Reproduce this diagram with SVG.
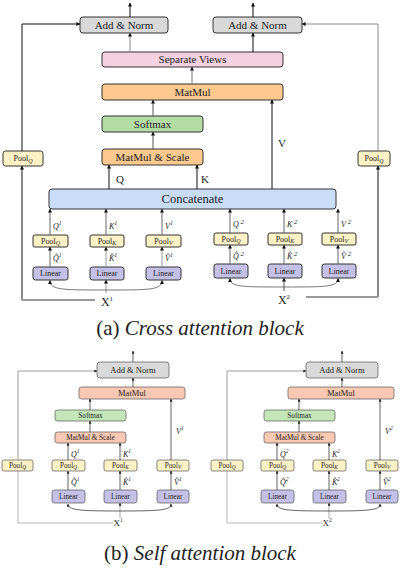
<svg xmlns="http://www.w3.org/2000/svg" width="402" height="568" viewBox="0 0 402 568" font-family="'Liberation Serif', 'Times New Roman', serif">
<defs>
<marker id="ah" viewBox="0 0 10 10" refX="9" refY="5" markerWidth="4" markerHeight="4" orient="auto" markerUnits="userSpaceOnUse"><path d="M0,0 L10,5 L0,10 z" fill="#111"/></marker>
<marker id="ahs" viewBox="0 0 10 10" refX="9" refY="5" markerWidth="3" markerHeight="3" orient="auto" markerUnits="userSpaceOnUse"><path d="M0,0 L10,5 L0,10 z" fill="#222"/></marker>
<style>
text{font-family:'Liberation Serif','Times New Roman',serif;fill:#222;text-anchor:middle}
.a rect{stroke:#333;stroke-width:1}
.b rect{stroke:#555;stroke-width:0.7}
.gray{fill:#d9d9d9}.pink{fill:#f3d1e1}.orange{fill:#fdc98f}.green{fill:#b6dca5}.blue{fill:#c9dcf8}.yellow{fill:#fff1c6}.lav{fill:#c4c0e6}.salmon{fill:#fbc9b3}.green2{fill:#c5e6b9}
.t10{font-size:11px}.t11{font-size:12.5px}.t7{font-size:8px}.t8{font-size:8.5px}.t6{font-size:7.2px}
.m{font-style:italic;text-anchor:start}
.c line,.c path{stroke:#111;stroke-width:1;fill:none;marker-end:url(#ah)}
.cb line,.cb path{stroke:#222;stroke-width:0.7;fill:none;marker-end:url(#ahs)}
.plain{marker-end:none!important}
.g{stroke:#999!important;stroke-width:2!important}
</style>
</defs>

<!-- ===== (a) Cross attention block ===== -->
<g class="a">
<g id="a-addnorm-l"><rect class="gray" x="80" y="17" width="88" height="16" rx="3"/><text class="t10" x="124" y="28.7">Add &amp; Norm</text></g>
<g id="a-addnorm-r"><rect class="gray" x="213" y="17" width="89" height="16" rx="3"/><text class="t10" x="257.5" y="28.7">Add &amp; Norm</text></g>
<g id="a-sepviews"><rect class="pink" x="102" y="52" width="181" height="15" rx="3"/><text class="t10" x="192.5" y="63.2">Separate Views</text></g>
<g id="a-matmul"><rect class="orange" x="102" y="84" width="181" height="16" rx="3"/><text class="t10" x="192.5" y="95.7">MatMul</text></g>
<g id="a-softmax"><rect class="green" x="102" y="116" width="101" height="16" rx="3"/><text class="t10" x="152.5" y="127.7">Softmax</text></g>
<g id="a-matmulscale"><rect class="orange" x="102" y="149" width="101" height="16" rx="3"/><text class="t10" x="152.5" y="160.7">MatMul &amp; Scale</text></g>
<g id="a-concat"><rect class="blue" x="49" y="189" width="287" height="20" rx="3"/><text class="t11" x="192.5" y="203.2">Concatenate</text></g>
<g id="a-poolq-l"><rect class="yellow" x="3" y="151" width="40" height="15" rx="2.5"/><text class="t7" x="23" y="161">Pool<tspan font-style="italic" font-size="6" dy="1.5">Q</tspan></text></g>
<g id="a-poolq-r"><rect class="yellow" x="358" y="151" width="32" height="15" rx="2.5"/><text class="t7" x="374" y="161">Pool<tspan font-style="italic" font-size="6" dy="1.5">Q</tspan></text></g>

<g id="a-pool-q1"><rect class="yellow" x="33" y="235" width="35" height="12" rx="2"/><text class="t7" x="50.5" y="243.5">Pool<tspan font-style="italic" font-size="6" dy="1.5">Q</tspan></text></g>
<g id="a-pool-k1"><rect class="yellow" x="90" y="235" width="34" height="12" rx="2"/><text class="t7" x="107" y="243.5">Pool<tspan font-style="italic" font-size="6" dy="1.5">K</tspan></text></g>
<g id="a-pool-v1"><rect class="yellow" x="146" y="235" width="35" height="12" rx="2"/><text class="t7" x="163.5" y="243.5">Pool<tspan font-style="italic" font-size="6" dy="1.5">V</tspan></text></g>
<g id="a-lin-q1"><rect class="lav" x="33" y="267" width="35" height="13" rx="2.5"/><text class="t7" x="50.5" y="276.2">Linear</text></g>
<g id="a-lin-k1"><rect class="lav" x="90" y="267" width="34" height="13" rx="2.5"/><text class="t7" x="107" y="276.2">Linear</text></g>
<g id="a-lin-v1"><rect class="lav" x="146" y="267" width="35" height="13" rx="2.5"/><text class="t7" x="163.5" y="276.2">Linear</text></g>

<g id="a-pool-q2"><rect class="yellow" x="214" y="233" width="34" height="12" rx="2"/><text class="t7" x="231" y="241.5">Pool<tspan font-style="italic" font-size="6" dy="1.5">Q</tspan></text></g>
<g id="a-pool-k2"><rect class="yellow" x="268" y="233" width="34" height="12" rx="2"/><text class="t7" x="285" y="241.5">Pool<tspan font-style="italic" font-size="6" dy="1.5">K</tspan></text></g>
<g id="a-pool-v2"><rect class="yellow" x="322" y="233" width="34" height="12" rx="2"/><text class="t7" x="339" y="241.5">Pool<tspan font-style="italic" font-size="6" dy="1.5">V</tspan></text></g>
<g id="a-lin-q2"><rect class="lav" x="214" y="264" width="34" height="14" rx="2.5"/><text class="t7" x="231" y="273.7">Linear</text></g>
<g id="a-lin-k2"><rect class="lav" x="268" y="264" width="34" height="14" rx="2.5"/><text class="t7" x="285" y="273.7">Linear</text></g>
<g id="a-lin-v2"><rect class="lav" x="322" y="264" width="34" height="14" rx="2.5"/><text class="t7" x="339" y="273.7">Linear</text></g>
</g>

<g id="a-connectors" class="c">
<line x1="130" y1="17" x2="130" y2="3"/>
<line x1="253" y1="17" x2="253" y2="3"/>
<line x1="130" y1="52" x2="130" y2="33" style="stroke:#888"/>
<line x1="253" y1="52" x2="253" y2="33"/>
<line x1="192" y1="84" x2="192" y2="67" style="stroke:#777"/>
<line x1="153" y1="116" x2="153" y2="100" style="stroke:#555"/>
<line x1="153" y1="149" x2="153" y2="132" style="stroke:#555"/>
<line x1="109" y1="189" x2="109" y2="165"/>
<line x1="197" y1="189" x2="197" y2="165"/>
<line x1="272" y1="189" x2="272" y2="100"/>
<line x1="50" y1="235" x2="50" y2="209" style="stroke:#666"/>
<line x1="106" y1="235" x2="106" y2="209" style="stroke:#666"/>
<line x1="162" y1="235" x2="162" y2="209" style="stroke:#666"/>
<line x1="230" y1="233" x2="230" y2="209" style="stroke:#666"/>
<line x1="284" y1="233" x2="284" y2="209" style="stroke:#666"/>
<line x1="338" y1="233" x2="338" y2="209" style="stroke:#666"/>
<line x1="50" y1="267" x2="50" y2="247" style="stroke:#666"/>
<line x1="106" y1="267" x2="106" y2="247" style="stroke:#999"/>
<line x1="162" y1="267" x2="162" y2="247" style="stroke:#999"/>
<line x1="230" y1="264" x2="230" y2="245" style="stroke:#666"/>
<line x1="284" y1="264" x2="284" y2="245" style="stroke:#666"/>
<line x1="338" y1="264" x2="338" y2="245" style="stroke:#666"/>
<line x1="22" y1="300" x2="22" y2="166"/>
<path d="M22 151 L22 24 L80 24"/>
<line class="plain g" x1="22" y1="300" x2="95" y2="300"/>
<line x1="378" y1="297" x2="378" y2="166"/>
<path d="M378 151 L378 24 L302 24" style="stroke:#888"/>
<line class="plain g" x1="306" y1="297" x2="378" y2="297"/>
<line x1="106" y1="293" x2="106" y2="280" style="stroke:#999"/>
<path d="M106 290 C62 290 50 290 50 280.5" style="stroke:#555;stroke-width:0.8"/>
<path d="M106 290 C150 290 162 290 162 280.5" style="stroke:#555;stroke-width:0.8"/>
<line x1="284" y1="291" x2="284" y2="278" style="stroke:#555"/>
<path d="M284 287 C242 287 230 287 230 278.5" style="stroke:#555;stroke-width:0.8"/>
<path d="M284 287 C326 287 338 287 338 278.5" style="stroke:#555;stroke-width:0.8"/>
</g>

<g id="a-labels">
<text class="t10" x="120" y="183">Q</text>
<text class="t10" x="205" y="183">K</text>
<text class="t10" x="282" y="147">V</text>
<text class="m" font-size="8" x="53" y="229">Q<tspan font-size="6" dy="-4">1</tspan></text>
<text class="m" font-size="8" x="109" y="229">K<tspan font-size="6" dy="-4">1</tspan></text>
<text class="m" font-size="8" x="165" y="229">V<tspan font-size="6" dy="-4">1</tspan></text>
<text class="m" font-size="8" x="53" y="261">Q̂<tspan font-size="6" dy="-4">1</tspan></text>
<text class="m" font-size="8" x="109" y="261">K̂<tspan font-size="6" dy="-4">1</tspan></text>
<text class="m" font-size="8" x="165" y="261">V̂<tspan font-size="6" dy="-4">1</tspan></text>
<text class="m" font-size="8" x="233" y="227">Q<tspan font-size="7" dy="-3"> 2</tspan></text>
<text class="m" font-size="8" x="287" y="227">K<tspan font-size="7" dy="-3"> 2</tspan></text>
<text class="m" font-size="8" x="341" y="227">V<tspan font-size="7" dy="-3"> 2</tspan></text>
<text class="m" font-size="8" x="233" y="259">Q̂<tspan font-size="7" dy="-3"> 2</tspan></text>
<text class="m" font-size="8" x="287" y="259">K̂<tspan font-size="7" dy="-3"> 2</tspan></text>
<text class="m" font-size="8" x="341" y="259">V̂<tspan font-size="7" dy="-3"> 2</tspan></text>
<text font-size="12" x="107" y="306">X<tspan font-size="7" dy="-5">1</tspan></text>
<text font-size="12" x="284" y="304">X<tspan font-size="7" dy="-5">2</tspan></text>
</g>

<text id="caption-a" font-size="21" x="200" y="335">(a) <tspan font-style="italic">Cross attention block</tspan></text>

<!-- ===== (b) Self attention block, left ===== -->
<g class="b">
<g id="b1-addnorm"><rect class="gray" x="97" y="362" width="72" height="16" rx="3"/><text class="t8" x="133" y="372.8">Add &amp; Norm</text></g>
<g id="b1-matmul"><rect class="salmon" x="79" y="387" width="106" height="12" rx="2.5"/><text class="t8" x="132" y="395.8">MatMul</text></g>
<g id="b1-softmax"><rect class="green2" x="55" y="410" width="71" height="11" rx="2.5"/><text class="t6" x="90.5" y="418">Softmax</text></g>
<g id="b1-matmulscale"><rect class="salmon" x="55" y="432" width="71" height="11" rx="2.5"/><text class="t6" x="90.5" y="440">MatMul &amp; Scale</text></g>
<g id="b1-poolq-out"><rect class="yellow" x="2" y="460" width="31" height="11" rx="2"/><text class="t6" x="17.5" y="468">Pool<tspan font-style="italic" font-size="5.4" dy="1.3">Q</tspan></text></g>
<g id="b1-poolq"><rect class="yellow" x="52" y="460" width="33" height="11" rx="2"/><text class="t6" x="68.5" y="468">Pool<tspan font-style="italic" font-size="5.4" dy="1.3">Q</tspan></text></g>
<g id="b1-poolk"><rect class="yellow" x="104" y="460" width="33" height="11" rx="2"/><text class="t6" x="120.5" y="468">Pool<tspan font-style="italic" font-size="5.4" dy="1.3">K</tspan></text></g>
<g id="b1-poolv"><rect class="yellow" x="157" y="460" width="32" height="11" rx="2"/><text class="t6" x="173" y="468">Pool<tspan font-style="italic" font-size="5.4" dy="1.3">V</tspan></text></g>
<g id="b1-linq"><rect class="lav" x="52" y="490" width="33" height="13" rx="2.5"/><text class="t6" x="68.5" y="499">Linear</text></g>
<g id="b1-link"><rect class="lav" x="104" y="490" width="33" height="13" rx="2.5"/><text class="t6" x="120.5" y="499">Linear</text></g>
<g id="b1-linv"><rect class="lav" x="157" y="490" width="32" height="13" rx="2.5"/><text class="t6" x="173" y="499">Linear</text></g>
</g>

<g id="b1-connectors" class="cb">
<line x1="133" y1="362" x2="133" y2="351"/>
<line x1="133" y1="387" x2="133" y2="378"/>
<line x1="90" y1="410" x2="90" y2="399"/>
<line x1="90" y1="432" x2="90" y2="421"/>
<line x1="68" y1="460" x2="68" y2="443"/>
<line x1="120" y1="460" x2="120" y2="443"/>
<line x1="171" y1="460" x2="171" y2="399"/>
<line x1="68" y1="490" x2="68" y2="471"/>
<line x1="120" y1="490" x2="120" y2="471"/>
<line x1="171" y1="490" x2="171" y2="471"/>
<path d="M18 460 L18 371 L97 371" style="stroke:#777"/>
<path class="plain" d="M18 471 L18 523 L113 523" style="stroke:#999"/>
<line x1="120" y1="518" x2="120" y2="503" style="stroke:#888"/>
<path d="M120 511 C78 511 68 510 68 504" />
<path d="M120 511 C162 511 171 510 171 504" />
</g>

<g id="b1-labels">
<text class="m" font-size="8" x="71" y="457">Q<tspan font-size="5.5" dy="-4">1</tspan></text>
<text class="m" font-size="8" x="123" y="457">K<tspan font-size="5.5" dy="-4">1</tspan></text>
<text class="m" font-size="8" x="176" y="434">V<tspan font-size="5.5" dy="-4">1</tspan></text>
<text class="m" font-size="8" x="71" y="485">Q̂<tspan font-size="5.5" dy="-4">1</tspan></text>
<text class="m" font-size="8" x="123" y="485">K̂<tspan font-size="5.5" dy="-4">1</tspan></text>
<text class="m" font-size="8" x="174" y="485">V̂<tspan font-size="5.5" dy="-4">1</tspan></text>
<text font-size="9" x="118" y="526">X<tspan font-size="5.5" dy="-4">1</tspan></text>
</g>

<!-- ===== (b) Self attention block, right ===== -->
<g class="b">
<g id="b2-addnorm"><rect class="gray" x="306" y="362" width="72" height="16" rx="3"/><text class="t8" x="342" y="372.8">Add &amp; Norm</text></g>
<g id="b2-matmul"><rect class="salmon" x="288" y="387" width="106" height="12" rx="2.5"/><text class="t8" x="341" y="395.8">MatMul</text></g>
<g id="b2-softmax"><rect class="green2" x="264" y="410" width="71" height="11" rx="2.5"/><text class="t6" x="299.5" y="418">Softmax</text></g>
<g id="b2-matmulscale"><rect class="salmon" x="264" y="432" width="71" height="11" rx="2.5"/><text class="t6" x="299.5" y="440">MatMul &amp; Scale</text></g>
<g id="b2-poolq-out"><rect class="yellow" x="211" y="460" width="32" height="11" rx="2"/><text class="t6" x="227" y="468">Pool<tspan font-style="italic" font-size="5.4" dy="1.3">Q</tspan></text></g>
<g id="b2-poolq"><rect class="yellow" x="261" y="460" width="33" height="11" rx="2"/><text class="t6" x="277.5" y="468">Pool<tspan font-style="italic" font-size="5.4" dy="1.3">Q</tspan></text></g>
<g id="b2-poolk"><rect class="yellow" x="313" y="460" width="33" height="11" rx="2"/><text class="t6" x="329.5" y="468">Pool<tspan font-style="italic" font-size="5.4" dy="1.3">K</tspan></text></g>
<g id="b2-poolv"><rect class="yellow" x="366" y="460" width="32" height="11" rx="2"/><text class="t6" x="382" y="468">Pool<tspan font-style="italic" font-size="5.4" dy="1.3">V</tspan></text></g>
<g id="b2-linq"><rect class="lav" x="261" y="490" width="33" height="13" rx="2.5"/><text class="t6" x="277.5" y="499">Linear</text></g>
<g id="b2-link"><rect class="lav" x="313" y="490" width="33" height="13" rx="2.5"/><text class="t6" x="329.5" y="499">Linear</text></g>
<g id="b2-linv"><rect class="lav" x="366" y="490" width="32" height="13" rx="2.5"/><text class="t6" x="382" y="499">Linear</text></g>
</g>

<g id="b2-connectors" class="cb">
<line x1="342" y1="362" x2="342" y2="351"/>
<line x1="342" y1="387" x2="342" y2="378"/>
<line x1="299" y1="410" x2="299" y2="399"/>
<line x1="299" y1="432" x2="299" y2="421"/>
<line x1="277" y1="460" x2="277" y2="443"/>
<line x1="329" y1="460" x2="329" y2="443"/>
<line x1="380" y1="460" x2="380" y2="399"/>
<line x1="277" y1="490" x2="277" y2="471"/>
<line x1="329" y1="490" x2="329" y2="471"/>
<line x1="380" y1="490" x2="380" y2="471"/>
<path d="M227 460 L227 371 L306 371" style="stroke:#777"/>
<path class="plain" d="M227 471 L227 523 L322 523" style="stroke:#999"/>
<line x1="329" y1="518" x2="329" y2="503" style="stroke:#888"/>
<path d="M329 511 C287 511 277 510 277 504" />
<path d="M329 511 C371 511 380 510 380 504" />
</g>

<g id="b2-labels">
<text class="m" font-size="8" x="280" y="457">Q<tspan font-size="5.5" dy="-4">2</tspan></text>
<text class="m" font-size="8" x="332" y="457">K<tspan font-size="5.5" dy="-4">2</tspan></text>
<text class="m" font-size="8" x="385" y="434">V<tspan font-size="5.5" dy="-4">2</tspan></text>
<text class="m" font-size="8" x="280" y="485">Q̂<tspan font-size="5.5" dy="-4">2</tspan></text>
<text class="m" font-size="8" x="332" y="485">K̂<tspan font-size="5.5" dy="-4">2</tspan></text>
<text class="m" font-size="8" x="383" y="485">V̂<tspan font-size="5.5" dy="-4">2</tspan></text>
<text font-size="9" x="327" y="526">X<tspan font-size="5.5" dy="-4">2</tspan></text>
</g>

<text id="caption-b" font-size="21" x="200" y="560">(b) <tspan font-style="italic">Self attention block</tspan></text>
</svg>
